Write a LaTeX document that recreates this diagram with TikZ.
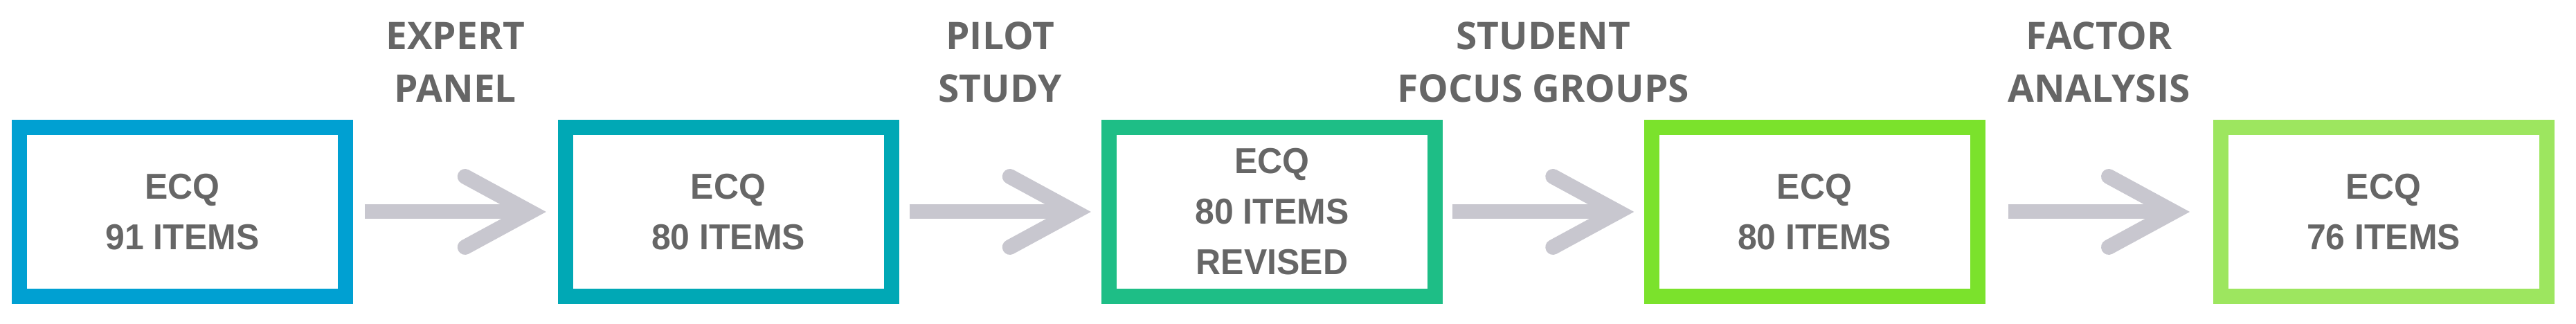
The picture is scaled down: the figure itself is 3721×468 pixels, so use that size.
\documentclass[tikz,border=0pt]{standalone}
\usepackage{fontspec}
\setmainfont{Liberation Sans}[FakeStretch=0.96]
\newfontfamily\labelfont{Open Sans}
\usetikzlibrary{calc}
\definecolor{cA}{HTML}{00A0D2}
\definecolor{cB}{HTML}{00A8B5}
\definecolor{cC}{HTML}{1EBE86}
\definecolor{cD}{HTML}{7BE22C}
\definecolor{cE}{HTML}{9DE65F}
\definecolor{txt}{HTML}{666666}
\definecolor{arr}{HTML}{C8C7CF}
\begin{document}
\begin{tikzpicture}[x=1pt,y=1pt,
  stage/.style={draw=#1, line width=22pt, minimum width=471pt, minimum height=244pt,
    inner sep=0pt, align=center, text=txt, font=\bfseries\fontsize{52}{73}\selectfont,
    execute at begin node={\rule{0pt}{47pt}}},
  stepname/.style={align=center, text=txt, anchor=base,
    font=\labelfont\bfseries\fontsize{55}{76}\selectfont},
  shaft/.style={draw=arr, line width=21pt},
  chev/.style={draw=arr, line width=22pt, line cap=round, line join=miter}]
\useasboundingbox (0,0) rectangle (3721,468);

\node[stage=cA] (b1) at (263.5,162) {ECQ\\91 ITEMS};
\node[stage=cB] (b2) at (1052,162) {ECQ\\80 ITEMS};
\node[stage=cC] (b3) at (1837.5,162) {ECQ\\80 ITEMS\\REVISED};
\node[stage=cD] (b4) at (2621,162) {ECQ\\80 ITEMS};
\node[stage=cE] (b5) at (3443,162) {ECQ\\76 ITEMS};

\coordinate (m1) at ($(b1.east)!0.5!(b2.west)$);
\coordinate (m2) at ($(b2.east)!0.5!(b3.west)$);
\coordinate (m3) at ($(b3.east)!0.5!(b4.west)$);
\coordinate (m4) at ($(b4.east)!0.5!(b5.west)$);

\draw[shaft] ($(m1)+(-131,0)$) -- ($(m1)+(100,0)$);
\draw[chev] ($(m1)+(14,51)$) -- ($(m1)+(108,0)$) -- ($(m1)+(14,-51)$);
\draw[shaft] ($(m2)+(-131,0)$) -- ($(m2)+(100,0)$);
\draw[chev] ($(m2)+(14,51)$) -- ($(m2)+(108,0)$) -- ($(m2)+(14,-51)$);
\draw[shaft] ($(m3)+(-131,0)$) -- ($(m3)+(100,0)$);
\draw[chev] ($(m3)+(14,51)$) -- ($(m3)+(108,0)$) -- ($(m3)+(14,-51)$);
\draw[shaft] ($(m4)+(-131,0)$) -- ($(m4)+(100,0)$);
\draw[chev] ($(m4)+(14,51)$) -- ($(m4)+(108,0)$) -- ($(m4)+(14,-51)$);

\node[stepname] (l1) at ($(m1)+(0,158)$) {EXPERT\\PANEL};
\node[stepname] (l2) at ($(m2)+(0,158)$) {PILOT\\STUDY};
\node[stepname] (l3) at ($(m3)+(0,158)$) {STUDENT\\FOCUS GROUPS};
\node[stepname] (l4) at ($(m4)+(0,158)$) {FACTOR\\ANALYSIS};
\end{tikzpicture}
\end{document}
